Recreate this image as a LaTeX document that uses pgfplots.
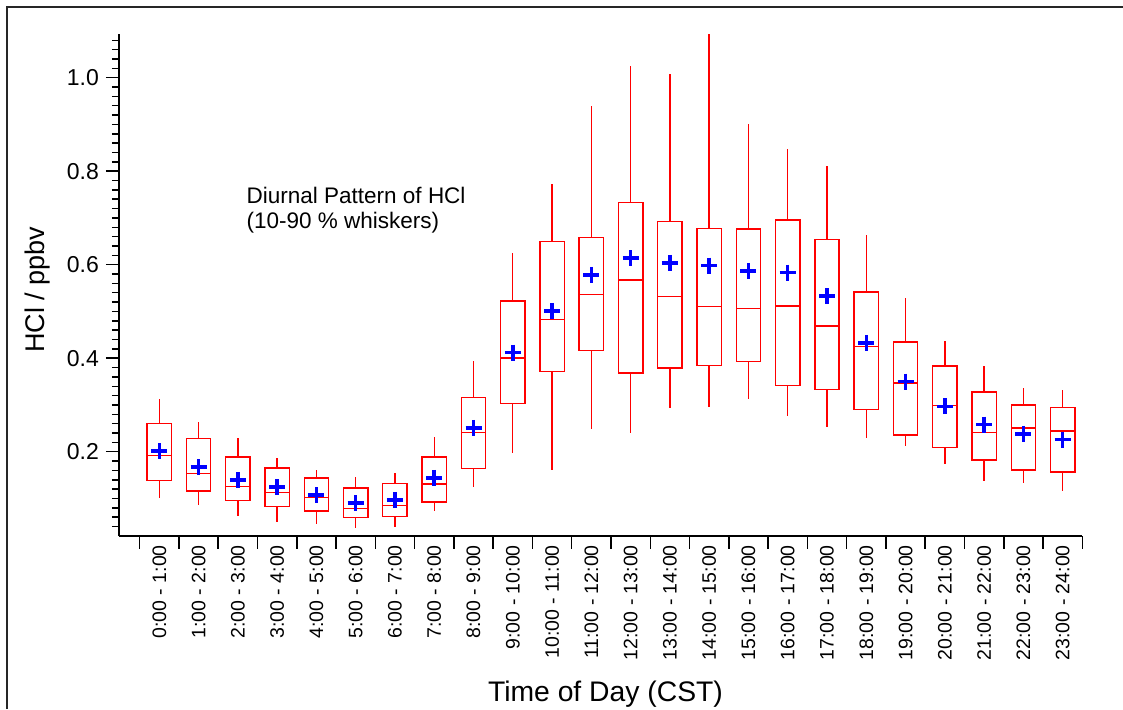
\documentclass[border=0pt]{standalone}
\usepackage{fontspec}
\setmainfont{Liberation Sans}
\usepackage{pgfplots}
\pgfplotsset{compat=1.18}
\usepgfplotslibrary{statistics}
\newcommand{\bx}[6]{\addplot[red, line width=1.4pt, solid, boxplot prepared={draw direction=y, draw position=#1, lower whisker=#2, lower quartile=#3, median=#4, upper quartile=#5, upper whisker=#6, box extend=0.62, whisker extend=0}] coordinates {};}
\begin{document}
\begin{tikzpicture}
\useasboundingbox (0pt,0pt) rectangle (1123pt,709pt);
\draw[line width=2pt, black!85] (7.3pt,0pt) -- (7.3pt,701.7pt) -- (1123pt,701.7pt);
\begin{axis}[
  at={(119pt,173pt)}, anchor=south west,
  scale only axis, width=963.3pt, height=501.7pt,
  xmin=-1.026, xmax=23.5, ymin=0.0197, ymax=1.0928,
  clip=false,
  boxplot/draw direction=y,
  axis x line*=bottom, axis y line*=left,
  axis line style={-, line width=1.8pt, black},
  tick align=outside,
  major tick length=13pt, minor tick length=7pt,
  tick style={line width=1.5pt, black},
  ytick={0.2,0.4,0.6,0.8,1.0},
  yticklabels={0.2,0.4,0.6,0.8,1.0},
  minor ytick={0.04,0.06,...,1.08},
  xtick={-0.5,0.5,...,23.5},
  xticklabels={},
  extra x ticks={0,1,...,23},
  extra x tick labels={0:00 - 1:00,1:00 - 2:00,2:00 - 3:00,3:00 - 4:00,4:00 - 5:00,5:00 - 6:00,6:00 - 7:00,7:00 - 8:00,8:00 - 9:00,9:00 - 10:00,10:00 - 11:00,11:00 - 12:00,12:00 - 13:00,13:00 - 14:00,14:00 - 15:00,15:00 - 16:00,16:00 - 17:00,17:00 - 18:00,18:00 - 19:00,19:00 - 20:00,20:00 - 21:00,21:00 - 22:00,22:00 - 23:00,23:00 - 24:00},
  extra x tick style={major tick length=0pt, tick style={draw=none}},
  xticklabel shift=9pt,
  xticklabel style={rotate=90, anchor=east, inner sep=0pt, font=\fontsize{19.5}{22}\selectfont},
  yticklabel style={anchor=east, inner sep=0pt, xshift=-7pt, font=\fontsize{23}{26}\selectfont},
  xlabel={Time of Day (CST)},
  xlabel style={at={(axis description cs:0.505,-0.3289)}, anchor=base, inner sep=0pt, font=\fontsize{28.3}{32}\selectfont},
  ylabel={HCl / ppbv},
  ylabel style={at={(axis description cs:-0.0773,0.491)}, anchor=base, inner sep=0pt, font=\fontsize{27}{30}\selectfont},
]
\bx{0}{0.100}{0.138}{0.192}{0.260}{0.312}
\bx{1}{0.085}{0.116}{0.153}{0.228}{0.263}
\bx{2}{0.063}{0.095}{0.125}{0.189}{0.229}
\bx{3}{0.049}{0.083}{0.113}{0.165}{0.186}
\bx{4}{0.045}{0.073}{0.102}{0.144}{0.160}
\bx{5}{0.037}{0.059}{0.078}{0.122}{0.145}
\bx{6}{0.040}{0.061}{0.085}{0.132}{0.154}
\bx{7}{0.074}{0.092}{0.131}{0.189}{0.231}
\bx{8}{0.124}{0.164}{0.241}{0.316}{0.395}
\bx{9}{0.197}{0.303}{0.400}{0.522}{0.624}
\bx{10}{0.160}{0.372}{0.483}{0.649}{0.772}
\bx{11}{0.249}{0.416}{0.536}{0.658}{0.939}
\bx{12}{0.241}{0.368}{0.567}{0.733}{1.025}
\bx{13}{0.293}{0.379}{0.532}{0.693}{1.008}
\bx{14}{0.296}{0.384}{0.510}{0.677}{1.093}
\bx{15}{0.312}{0.393}{0.506}{0.676}{0.900}
\bx{16}{0.277}{0.341}{0.512}{0.696}{0.848}
\bx{17}{0.253}{0.333}{0.469}{0.654}{0.811}
\bx{18}{0.230}{0.290}{0.425}{0.542}{0.664}
\bx{19}{0.212}{0.236}{0.347}{0.435}{0.529}
\bx{20}{0.174}{0.209}{0.299}{0.383}{0.437}
\bx{21}{0.138}{0.182}{0.241}{0.328}{0.383}
\bx{22}{0.132}{0.161}{0.251}{0.300}{0.336}
\bx{23}{0.116}{0.157}{0.244}{0.295}{0.332}
\addplot[only marks, mark=+, mark size=8pt, blue, mark options={line width=3.5pt, solid}] coordinates {
(0,0.201) (1,0.167) (2,0.139) (3,0.124) (4,0.107) (5,0.090) (6,0.097) (7,0.144)
(8,0.251) (9,0.412) (10,0.501) (11,0.578) (12,0.614) (13,0.604) (14,0.598) (15,0.587)
(16,0.583) (17,0.533) (18,0.433) (19,0.350) (20,0.297) (21,0.258) (22,0.238) (23,0.226)};
\node[anchor=base west, inner sep=0pt, font=\fontsize{22.5}{27}\selectfont] at (axis cs:2.22,0.7313) {Diurnal Pattern of HCl};
\node[anchor=base west, inner sep=0pt, font=\fontsize{22.5}{27}\selectfont] at (axis cs:2.22,0.6779) {(10-90 \% whiskers)};
\end{axis}
\end{tikzpicture}
\end{document}
